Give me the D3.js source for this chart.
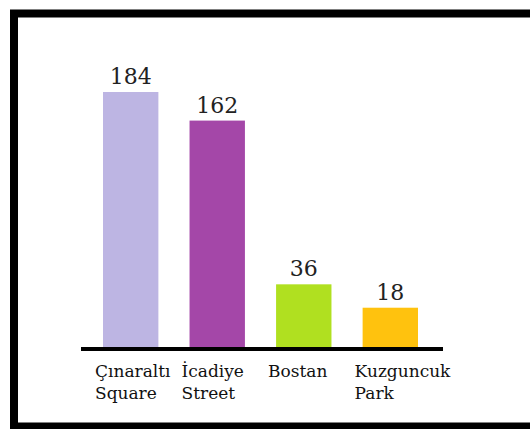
<!DOCTYPE html>
<html lang="en">
<head>
    <meta charset="utf-8" />
    <title>Bar chart</title>
    <script src="https://d3js.org/d3.v7.min.js"></script>
    <style>
        body { margin: 0; background: #fff; }
        text { font-family: "DejaVu Serif", serif; }
    </style>
</head>
<body>
<script>
    var w = 530;
    var h = 429;

    // data
    var places = ["Çınaraltı Square", "İcadiye Street", "Bostan", "Kuzguncuk Park"];
    var labelLines = [["Çınaraltı", "Square"], ["İcadiye", "Street"], ["Bostan"], ["Kuzguncuk", "Park"]];
    var counts = [184, 162, 36, 18];
    var colors = ["#bdb5e3", "#a447a8", "#b0e020", "#ffc20e"];

    var baseY = 348;

    var xScale = d3.scaleBand()
        .domain(places)
        .range([103, 418])
        .paddingInner(0.36)
        .paddingOuter(0);

    // the original bars do not start from zero, so the domain is shifted a bit
    var yScale = d3.scaleLinear()
        .domain([-13, 184])
        .range([baseY, 92]);

    var svg = d3.select("body")
        .append("svg")
        .attr("width", w)
        .attr("height", h);

    // black frame
    svg.append("rect")
        .attr("x", 14)
        .attr("y", 13.5)
        .attr("width", 530)
        .attr("height", 413)
        .attr("fill", "none")
        .attr("stroke", "#000")
        .attr("stroke-width", 8);

    // bars
    svg.selectAll("rect.bar")
        .data(counts)
        .enter()
        .append("rect")
        .attr("class", "bar")
        .attr("x", function(d, i) { return xScale(places[i]); })
        .attr("y", function(d) { return yScale(d); })
        .attr("width", xScale.bandwidth())
        .attr("height", function(d) { return baseY - yScale(d); })
        .attr("fill", function(d, i) { return colors[i]; });

    // value labels above bars
    svg.selectAll("text.value")
        .data(counts)
        .enter()
        .append("text")
        .attr("class", "value")
        .text(function(d) { return d; })
        .attr("x", function(d, i) { return xScale(places[i]) + xScale.bandwidth() / 2; })
        .attr("y", function(d) { return yScale(d) - 8; })
        .attr("font-size", "22px")
        .attr("fill", "#222")
        .attr("text-anchor", "middle");

    // baseline
    svg.append("line")
        .attr("x1", 81)
        .attr("x2", 443)
        .attr("y1", baseY + 1)
        .attr("y2", baseY + 1)
        .attr("stroke", "#000")
        .attr("stroke-width", 4);

    // category labels, two lines each
    var cat = svg.selectAll("text.cat")
        .data(labelLines)
        .enter()
        .append("text")
        .attr("class", "cat")
        .attr("font-size", "17px")
        .attr("fill", "#111")
        .attr("transform", function(d, i) {
            return "translate(" + (xScale(places[i]) - 8) + "," + 377 + ")";
        });

    cat.selectAll("tspan")
        .data(function(d) { return d; })
        .enter()
        .append("tspan")
        .attr("x", 0)
        .attr("y", function(d, j) { return j * 22; })
        .text(function(d) { return d; });
</script>
</body>
</html>
